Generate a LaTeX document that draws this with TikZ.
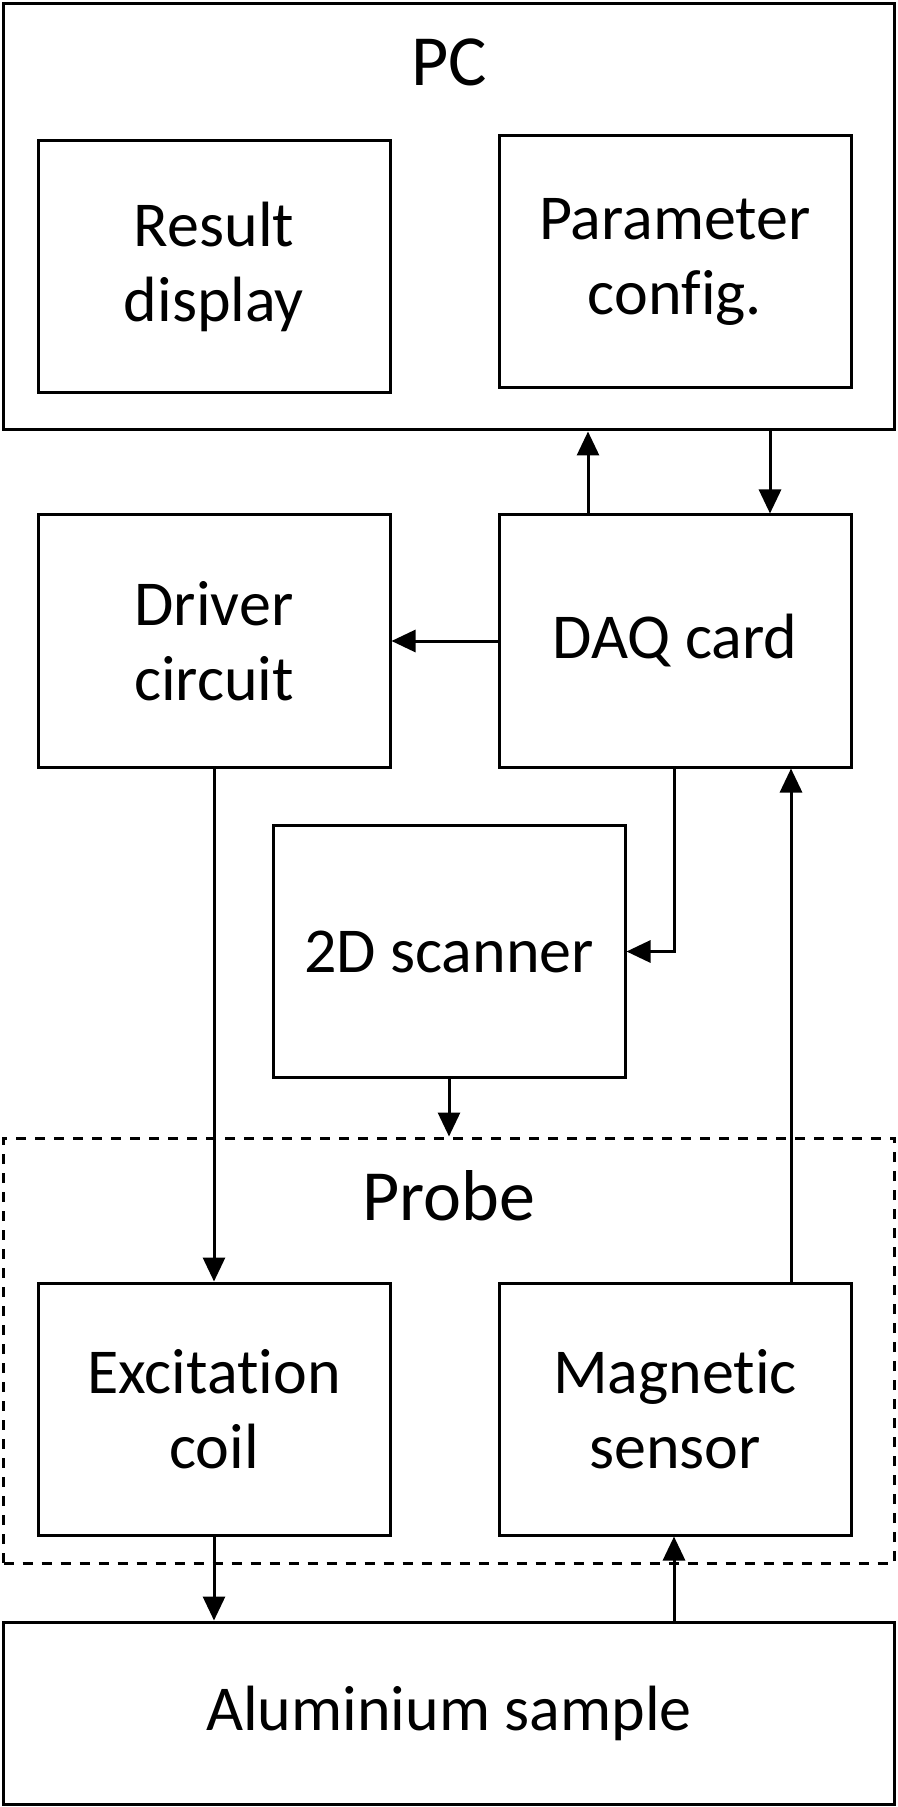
\documentclass[tikz,border=0pt]{standalone}
\usepackage{fontspec}
\setmainfont{Carlito}[Ligatures=NoCommon]
\usetikzlibrary{positioning,arrows.meta}

\begin{document}
\begin{tikzpicture}[x=0.5pt,y=-0.5pt,line width=1.5pt,
	every node/.style={draw=black,rectangle,align=center,font=\fontsize{32}{37.5}\selectfont},
	blockbox/.style={minimum width=176pt,minimum height=126pt},
	sig/.style={-{Triangle[width=11pt,length=12pt]}}]
		\useasboundingbox (0,0) rectangle (898,1807);

		%outer frames
		\node[minimum width=445.5pt,minimum height=213.25pt] (pc) at (449,216.75) {};
		\node[draw=none,font=\fontsize{36}{42}\selectfont] (pclabel) at (449,62) {PC};
		\node[dash pattern=on 5pt off 4.5pt,minimum width=445.5pt,minimum height=212.5pt] (probe) at (449,1350.5) {};
		\node[draw=none,font=\fontsize{36}{42}\selectfont] (probelabel) at (449,1196) {Probe};

		%blocks
		\node[blockbox] (res) at (214,267) {Result\\display};
		\node[blockbox] (par) at (675,262) {Parameter\\config.};
		\node[blockbox] (drv) at (214,641) {Driver\\circuit};
		\node[blockbox] (daq) at (675,641) {DAQ card};
		\node[blockbox] (scan) at (449,951.5) {2D scanner};
		\node[blockbox] (exc) at (214,1409) {Excitation\\coil};
		\node[blockbox] (mag) at (675,1409) {Magnetic\\sensor};
		\node[minimum width=445.5pt,minimum height=91pt] (sample) at (449,1713) {Aluminium sample};

		%signals
		\draw[sig] (588,0 |- daq.north) -- (588,0 |- pc.south);
		\draw[sig] (770,0 |- pc.south) -- (770,0 |- daq.north);
		\draw[sig] (daq.west) -- (drv.east);
		\draw[sig] (drv.south) -- (exc.north);
		\draw[sig] (674,0 |- daq.south) |- (scan.east);
		\draw[sig] (791,0 |- mag.north) -- (791,0 |- daq.south);
		\draw[sig] (scan.south) -- (scan.south |- probe.north);
		\draw[sig] (exc.south) -- (exc.south |- sample.north);
		\draw[sig] (674,0 |- sample.north) -- (674,0 |- mag.south);
\end{tikzpicture}
\end{document}
